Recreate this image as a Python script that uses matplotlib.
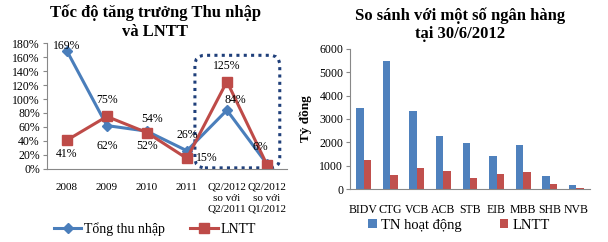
import matplotlib.pyplot as plt
from matplotlib.patches import FancyBboxPatch

# Left chart data (growth rates, %)
periods = ["2008", "2009", "2010", "2011", "Q2/2012\nso với\nQ2/2011", "Q2/2012\nso với\nQ1/2012"]
tong_thu_nhap = [169, 62, 54, 26, 84, 7]
lntt_growth = [41, 75, 52, 15, 125, 6]
tong_labels = ["169%", "62%", "54%", "26%", "84%", ""]
lntt_labels = ["41%", "75%", "52%", "15%", "125%", "6%"]

# Right chart data (ty dong)
banks = ["BIDV", "CTG", "VCB", "ACB", "STB", "EIB", "MBB", "SHB", "NVB"]
tn_hoat_dong = [3450, 5480, 3350, 2270, 1950, 1430, 1870, 550, 180]
lntt_bank = [1260, 600, 900, 760, 470, 630, 720, 220, 30]

plt.rcParams["font.family"] = ["Liberation Serif", "DejaVu Serif"]

BLUE = "#4A7EBB"
RED = "#BE4B48"
BAR_BLUE = "#4F81BD"
BAR_RED = "#C0504D"

fig = plt.figure(figsize=(6.08, 2.42), dpi=100)

# ---- left: line chart ----
ax1 = fig.add_axes([0.077, 0.302, 0.395, 0.52])
x = list(range(len(periods)))
ax1.plot(x, tong_thu_nhap, color=BLUE, lw=2.2, marker="D", ms=5.5, label="Tổng thu nhập")
ax1.plot(x, lntt_growth, color=RED, lw=2.2, marker="s", ms=7, label="LNTT")
ax1.set_xlim(-0.5, len(periods) - 0.5)
ax1.set_ylim(0, 180)
ax1.set_yticks(range(0, 181, 20))
ax1.set_yticklabels([f"{v}%" for v in range(0, 181, 20)], fontsize=8.5)
ax1.set_xticks(x)
ax1.set_xticklabels(periods, fontsize=8, linespacing=1.25)
ax1.tick_params(axis="x", length=0, pad=10)
ax1.tick_params(axis="y", length=3, pad=2, color="#888888")
for s in ["top", "right"]:
    ax1.spines[s].set_visible(False)
for s in ["left", "bottom"]:
    ax1.spines[s].set_color("#888888")

# data labels, placed by hand like the original
tong_off = [(0, 3.5), (0, -15), (4, 9), (0, 11), (6, 7), (0, 0)]
lntt_off = [(0, -10), (0, 12), (0, -10), (14, 0), (0, 11.5), (-5, 13)]
for i in x:
    if tong_labels[i]:
        ax1.annotate(tong_labels[i], (i, tong_thu_nhap[i]), xytext=tong_off[i],
                     textcoords="offset points", ha="center", va="center", fontsize=8.5)
    if lntt_labels[i]:
        ax1.annotate(lntt_labels[i], (i, lntt_growth[i]), xytext=lntt_off[i],
                     textcoords="offset points", ha="center", va="center", fontsize=8.5)

# dotted rounded box around the last two periods
box = FancyBboxPatch((3.2, 1.5), 2.12, 161, boxstyle="round,pad=0,rounding_size=0.25",
                     mutation_aspect=57, fill=False, ec="#1F3F7A", lw=2.2,
                     ls=(0, (1, 1.4)), clip_on=False, transform=ax1.transData)
ax1.add_patch(box)

ax1.legend(loc="center", bbox_to_anchor=(0.45, -0.477), ncol=2, frameon=False,
           fontsize=10, handlelength=2, columnspacing=1.8, handletextpad=0.2)
fig.text(0.255, 0.98, "Tốc độ tăng trưởng Thu nhập\nvà LNTT", ha="center", va="top",
         fontsize=12, fontweight="bold", linespacing=1.2)

# ---- right: bar chart ----
ax2 = fig.add_axes([0.576, 0.219, 0.394, 0.579])
xb = list(range(len(banks)))
w = 0.28
ax2.bar([i - w / 2 for i in xb], tn_hoat_dong, width=w, color=BAR_BLUE, label="TN hoạt động")
ax2.bar([i + w / 2 for i in xb], lntt_bank, width=w, color=BAR_RED, label="LNTT")
ax2.set_xlim(-0.5, len(banks) - 0.5)
ax2.set_ylim(0, 6000)
ax2.set_yticks(range(0, 6001, 1000))
ax2.tick_params(axis="y", labelsize=8.5, length=3, pad=2, color="#888888")
ax2.set_xticks(xb)
ax2.set_xticklabels(banks, fontsize=8.5)
ax2.tick_params(axis="x", length=0, pad=11)
for s in ["top", "right"]:
    ax2.spines[s].set_visible(False)
for s in ["left", "bottom"]:
    ax2.spines[s].set_color("#888888")
ax2.set_ylabel("Tỷ đồng", fontsize=9.5, fontweight="bold", labelpad=5)
ax2.legend(loc="center", bbox_to_anchor=(0.454, -0.257), ncol=2, frameon=False,
           fontsize=10.5, handlelength=0.6, handleheight=0.6, columnspacing=2.6,
           handletextpad=0.3)
fig.text(0.757, 0.97, "So sánh với một số ngân hàng\ntại 30/6/2012", ha="center", va="top",
         fontsize=12, fontweight="bold", linespacing=1.2)

fig.savefig("out.png", dpi=100)
